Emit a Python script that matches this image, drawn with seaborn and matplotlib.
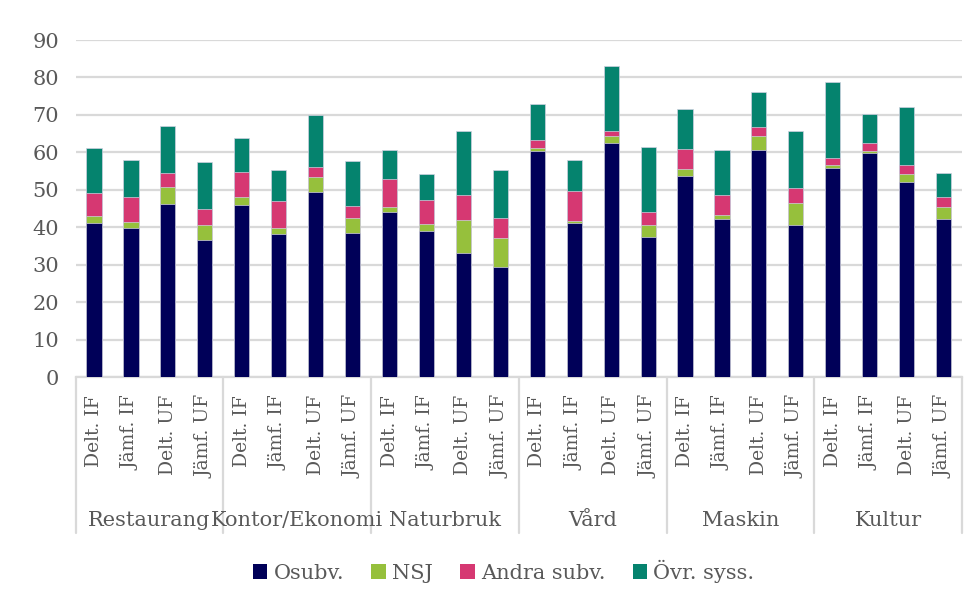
import pandas as pd
import matplotlib.pyplot as plt
import matplotlib.transforms as mtransforms
from matplotlib.patches import Patch
import seaborn as sns

# Values (percent)
groups = ["Restaurang", "Kontor/Ekonomi", "Naturbruk", "Vård", "Maskin", "Kultur"]
sub_labels = ["Delt. IF", "Jämf. IF", "Delt. UF", "Jämf. UF"]

osubv = [41.2, 39.8, 46.3, 36.6, 46.0, 38.3, 49.5, 38.5, 44.2, 39.0, 33.2, 29.4,
         60.4, 41.0, 62.6, 37.5, 53.7, 42.3, 60.7, 40.7, 55.9, 59.9, 52.2, 42.2]
nsj = [1.9, 1.6, 4.4, 3.9, 2.2, 1.6, 4.0, 4.1, 1.3, 1.9, 8.6, 7.6,
       0.8, 0.7, 1.8, 3.1, 1.8, 1.0, 3.6, 5.7, 0.7, 0.5, 1.9, 3.3]
andra = [6.1, 6.6, 3.8, 4.4, 6.6, 7.2, 2.6, 3.0, 7.3, 6.5, 6.7, 5.4,
         2.2, 7.9, 1.3, 3.6, 5.3, 5.4, 2.6, 4.2, 1.9, 2.1, 2.4, 2.6]
ovr = [11.9, 9.9, 12.5, 12.6, 8.9, 8.3, 14.0, 12.1, 7.7, 6.8, 17.1, 13.0,
       9.4, 8.3, 17.3, 17.2, 10.7, 11.9, 9.3, 15.2, 20.4, 7.7, 15.5, 6.4]

series_names = ["Osubv.", "NSJ", "Andra subv.", "Övr. syss."]
colors = ["#000058", "#96C03C", "#D63872", "#05836E"]

# build table with cumulative heights for the stacking trick
keys = [f"{g}|{s}" for g in groups for s in sub_labels]
df = pd.DataFrame({"key": keys, "Osubv.": osubv, "NSJ": nsj,
                   "Andra subv.": andra, "Övr. syss.": ovr})
cum = df[series_names].cumsum(axis=1)

sns.set_style("white")
plt.rcParams["font.family"] = ["DejaVu Serif"]
text_color = "#595959"
grid_color = "#D9D9D9"

fig = plt.figure(figsize=(9.76, 6.01), dpi=100)
ax = fig.add_axes([0.0774, 0.3727, 0.9083, 0.5607])

# draw tallest (total) first, then smaller cumulative sums on top
for name, color in reversed(list(zip(series_names, colors))):
    sns.barplot(x=df["key"], y=cum[name], order=keys, color=color,
                saturation=1, width=0.41, errorbar=None,
                edgecolor="#d0d0e0", linewidth=0.5, ax=ax, zorder=3)

ax.set_ylim(0, 90)
ax.set_yticks(range(0, 91, 10))
ax.set_xlim(-0.5, len(keys) - 0.5)
ax.yaxis.grid(True, color=grid_color, linewidth=1.6, zorder=0)
ax.set_axisbelow(True)
for side in ["left", "right", "top"]:
    ax.spines[side].set_visible(False)
ax.spines["bottom"].set_color(grid_color)
ax.spines["bottom"].set_linewidth(1.6)

ax.set_xticks(range(len(keys)))
ax.set_xticklabels(sub_labels * len(groups), rotation=90)
ax.tick_params(axis="x", length=0, pad=13, labelsize=13.5, labelcolor=text_color)
ax.tick_params(axis="y", length=0, pad=12, labelsize=15, labelcolor=text_color)
ax.set_xlabel("")
ax.set_ylabel("")

# group labels and separators under the tick labels
trans = mtransforms.blended_transform_factory(ax.transData, ax.transAxes)
n = len(sub_labels)
for i, g in enumerate(groups):
    ax.text(i * n + (n - 1) / 2, -0.425, g, transform=trans, ha="center",
            va="center", fontsize=15, color=text_color)
for i in range(len(groups) + 1):
    xb = i * n - 0.5
    ax.plot([xb, xb], [0, -0.463], transform=trans, color=grid_color,
            linewidth=1.6, clip_on=False)

handles = [Patch(facecolor=c, edgecolor="none", label=s)
           for s, c in zip(series_names, colors)]
leg = fig.legend(handles=handles, loc="center", bbox_to_anchor=(0.516, 0.05),
                 ncol=4, frameon=False, fontsize=15, handlelength=0.7,
                 handleheight=0.7, handletextpad=0.3, columnspacing=1.3)
for t in leg.get_texts():
    t.set_color(text_color)

fig.savefig("out.png", dpi=100, facecolor="white")
